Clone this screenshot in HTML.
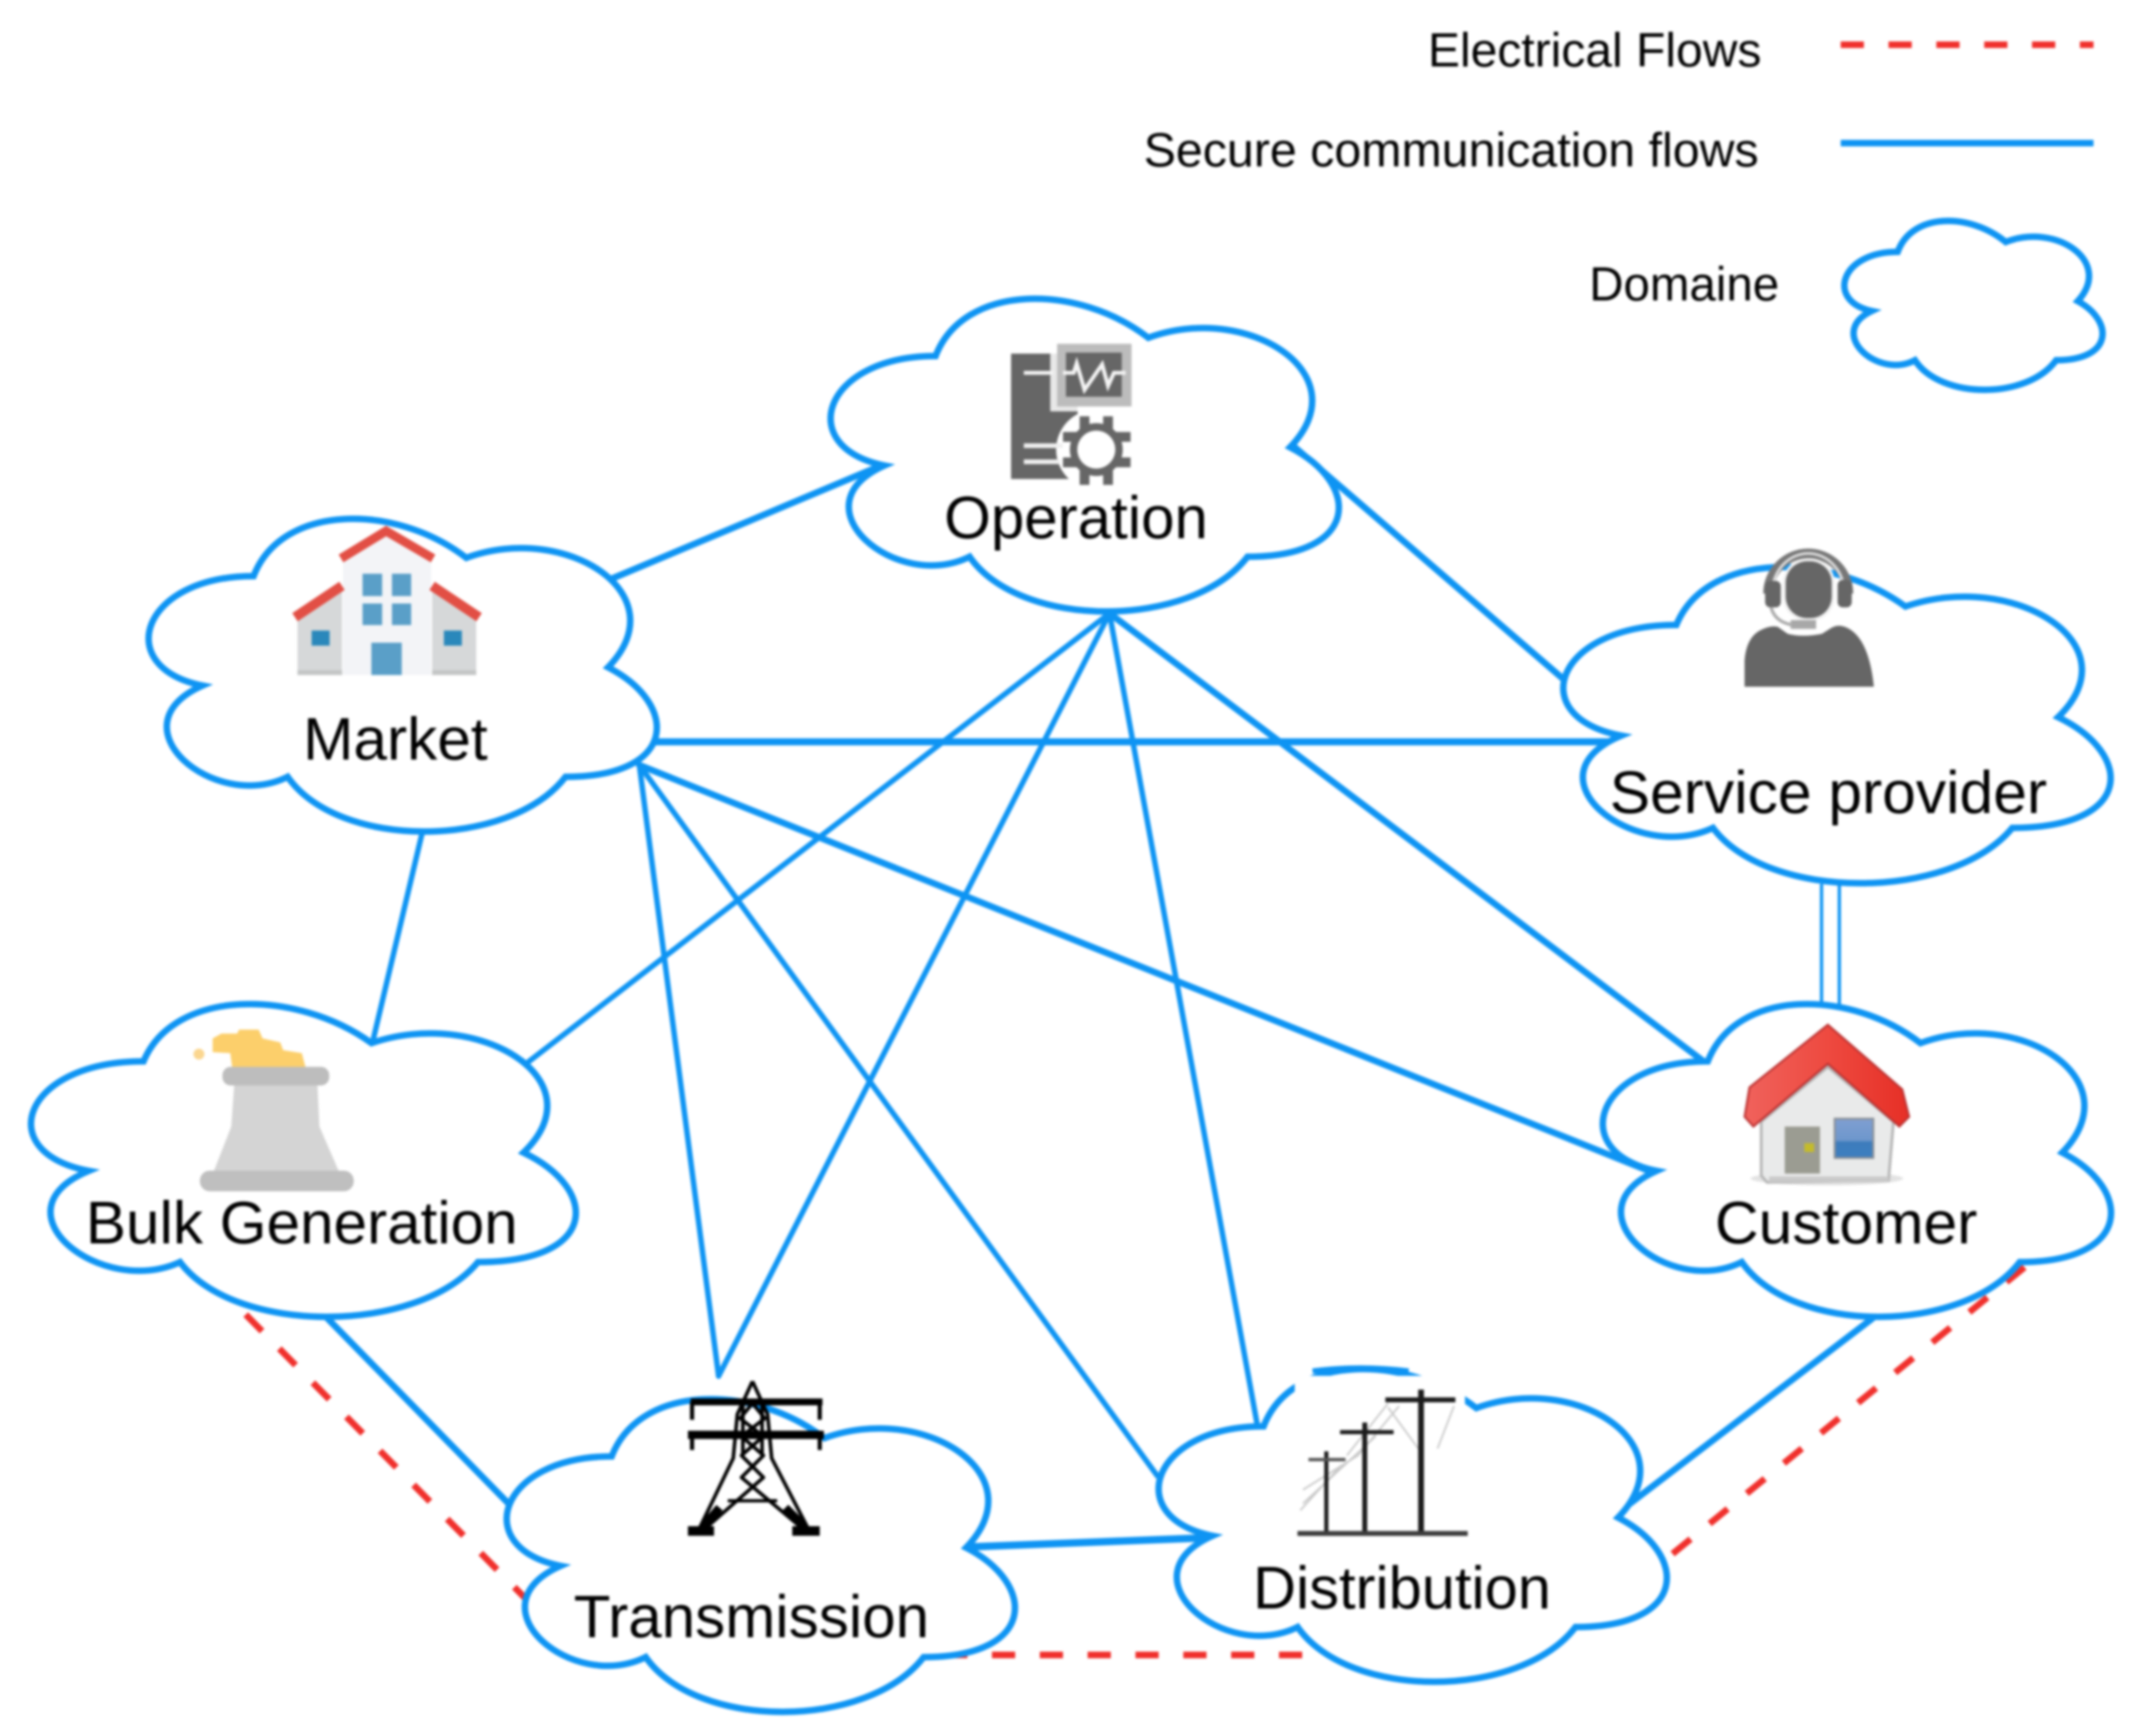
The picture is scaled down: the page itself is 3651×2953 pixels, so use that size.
<!DOCTYPE html>
<html lang="en">
<head>
<meta charset="utf-8">
<title>Smart grid domains diagram</title>
<style>
html,body{margin:0;padding:0;background:#fff;}
svg{display:block;position:absolute;left:0;top:0;width:3651px;height:2953px;filter:blur(2px);}
text{font-family:"Liberation Sans",Arial,sans-serif;fill:#000;}
.l{stroke:#0e94f3;stroke-width:4.8;fill:none;stroke-linecap:round;}
.t{stroke:#0e94f3;stroke-width:4;fill:none;stroke-linecap:round;}
.e{stroke:#f0302c;stroke-width:4.8;fill:none;stroke-dasharray:17 18;}
.c{fill:#fff;stroke:#0e94f3;stroke-width:11;stroke-linejoin:miter;}
</style>
</head>
<body>
<svg xmlns="http://www.w3.org/2000/svg" viewBox="0 0 1570 1270" width="3651" height="2953">
<defs>
<path id="cl" d="M103.75,66.75 C20.75,66.75 0,133.5 66.4,146.85 C0,176.2 74.7,240.3 128.65,213.6 C166,267 290.5,267 332,213.6 C415,213.6 415,160.2 363.1,133.5 C415,80.1 332,26.7 259.4,53.4 C207.5,13.35 124.5,13.35 103.75,66.75 Z" vector-effect="non-scaling-stroke"/>
<linearGradient id="rf" x1="0" x2="1" y1="0" y2="0"><stop offset="0" stop-color="#f0625c"/><stop offset="0.5" stop-color="#ee4a40"/><stop offset="1" stop-color="#e62f26"/></linearGradient>
<linearGradient id="wn" x1="0" x2="0" y1="0" y2="1"><stop offset="0" stop-color="#7f9fd2"/><stop offset="0.55" stop-color="#6e97cc"/><stop offset="0.6" stop-color="#3d7cbc"/><stop offset="1" stop-color="#3d7fc0"/></linearGradient>
</defs>

<g transform="translate(1.7,1.7)">
<!-- electrical flows -->
<path class="e" d="M178,960 L383,1168"/>
<path class="e" d="M689,1209 L955,1209"/>
<path class="e" d="M1222,1135 L1480,925"/>

<!-- communication flows -->
<path class="l" d="M445,422 L645,338"/>
<path class="l" d="M945,325 L1142,495"/>
<path class="l" d="M478,541 L1185,541" style="stroke-width:5.2"/>
<path class="l" d="M466,558 L1210,857"/>
<path class="t" d="M466,558 L845,1078"/>
<path class="t" d="M466,558 L524,1005"/>
<path class="t" d="M810,447 L385,775"/>
<path class="t" d="M810,447 L524,1005"/>
<path class="t" d="M810,447 L918,1040"/>
<path class="l" d="M810,447 L1245,775"/>
<path class="t" d="M307,608 L271,760"/>
<path class="l" d="M238,963 L370,1098"/>
<path class="l" d="M707,1130 L888,1123" style="stroke-width:5.4"/>
<path class="l" d="M1182,1105 L1368,963"/>
<path d="M1331,645 L1331,735 M1344,645 L1344,735" stroke="#0e94f3" stroke-width="2.4" fill="none"/>

<!-- clouds -->
<use href="#cl" class="c" transform="translate(579,192)"/>
<use href="#cl" class="c" transform="translate(80,353)"/>
<use href="#cl" class="c" transform="translate(1113,388) scale(1.077,1.011)"/>
<use href="#cl" class="c" transform="translate(1144,708)"/>
<use href="#cl" class="c" transform="translate(-8,708) scale(1.072,1)"/>
<use href="#cl" class="c" transform="translate(342,997)"/>
<use href="#cl" class="c" transform="translate(819,975)"/>
<use href="#cl" class="c" transform="translate(1334,146.5) scale(0.508,0.54)"/>

<!-- legend -->
<path class="e" d="M1345,31 L1530,31"/>
<path d="M1345,103 L1530,103" stroke="#0e94f3" stroke-width="4.8"/>
<text x="1043" y="47" font-size="35" textLength="244" lengthAdjust="spacingAndGlyphs">Electrical Flows</text>
<text x="835" y="120" font-size="35" textLength="450" lengthAdjust="spacingAndGlyphs">Secure communication flows</text>
<text x="1161" y="218" font-size="35" textLength="139" lengthAdjust="spacingAndGlyphs">Domaine</text>
</g>

<g transform="scale(1.0045)">
<!-- Operation icon -->
<g transform="translate(685,214) scale(0.1427)">
<rect x="360" y="305" width="340" height="640" fill="#666"/>
<rect x="560" y="240" width="430" height="360" fill="#fff" opacity="0.85"/>
<rect x="595" y="255" width="380" height="320" fill="#bcbcbc"/>
<rect x="640" y="300" width="285" height="225" fill="#666"/>
<path d="M425,403 H575 M625,403 H680 L695,355 L735,490 L825,360 L855,470 L885,403 H945" fill="none" stroke="#f4f4f4" stroke-width="20"/>
<circle cx="795" cy="795" r="205" fill="#fff"/>
<path d="M425,775 H625 M425,857 H610" stroke="#efefef" stroke-width="24" fill="none"/>
<g fill="#666">
<circle cx="795" cy="795" r="135"/>
<rect x="710" y="625" width="50" height="90"/>
<rect x="830" y="625" width="50" height="90"/>
<rect x="710" y="880" width="50" height="95"/>
<rect x="830" y="880" width="50" height="95"/>
<rect x="880" y="705" width="90" height="50"/>
<rect x="880" y="835" width="90" height="50"/>
<rect x="625" y="705" width="85" height="50"/>
<rect x="625" y="835" width="85" height="50"/>
</g>
<circle cx="795" cy="795" r="97" fill="#fff"/>
</g>

<!-- Market icon -->
<g transform="translate(179.8,363.9) scale(0.1427)">
<polygon points="258,600 485,460 485,895 258,895" fill="#d6d8d9"/>
<polygon points="1170,600 945,460 945,895 1170,895" fill="#d6d8d9"/>
<rect x="258" y="870" width="228" height="25" fill="#c4c6c6"/>
<rect x="945" y="870" width="225" height="25" fill="#c4c6c6"/>
<polygon points="490,300 710,180 940,300 940,895 490,895" fill="#f3f4f7"/>
<path d="M480,300 L710,160 L950,300" fill="none" stroke="#e24f45" stroke-width="46"/>
<path d="M245,600 L485,440" fill="none" stroke="#e24f45" stroke-width="50"/>
<path d="M1185,600 L945,440" fill="none" stroke="#e24f45" stroke-width="50"/>
<g fill="#5a9fc8">
<rect x="590" y="378" width="100" height="114"/>
<rect x="740" y="378" width="98" height="114"/>
<rect x="590" y="530" width="100" height="110"/>
<rect x="740" y="530" width="98" height="110"/>
<rect x="635" y="730" width="155" height="165"/>
</g>
<rect x="330" y="668" width="92" height="77" fill="#2a88bb"/>
<rect x="1005" y="668" width="92" height="77" fill="#2a88bb"/>
</g>

<!-- Service provider icon -->
<g transform="translate(1241.4,393.8) scale(0.1427)">
<path d="M205,745 L205,610 Q215,490 290,455 Q340,430 375,440 L425,475 Q500,495 600,475 L640,450 Q680,420 730,445 Q840,500 865,745 Z" fill="#666"/>
<path d="M325,270 A205,205 0 0 1 735,270" fill="none" stroke="#777" stroke-width="50"/>
<path d="M345,270 A185,205 0 0 1 715,270" fill="none" stroke="#ddd" stroke-width="14"/>
<rect x="310" y="205" width="80" height="135" rx="26" fill="#666"/>
<rect x="680" y="200" width="72" height="140" rx="26" fill="#666"/>
<rect x="400" y="90" width="265" height="320" rx="125" fill="#f2f2f2"/>
<rect x="415" y="105" width="235" height="290" rx="110" fill="#666"/>
<rect x="440" y="405" width="130" height="45" fill="#a8a8a8"/>
<path d="M340,340 Q360,415 450,430" fill="none" stroke="#aaa" stroke-width="16"/>
</g>

<!-- Customer icon -->
<g transform="translate(1241.4,727.7) scale(0.1427)">
<ellipse cx="625" cy="915" rx="390" ry="35" fill="#ccc" opacity="0.55"/>
<polygon points="290,625 630,345 965,625 940,925 320,935 290,900" fill="#e9eaea" stroke="#b5b5b5" stroke-width="14"/>
<rect x="330" y="905" width="610" height="30" fill="#c9c9c9"/>
<polygon points="630,130 1010,460 1045,600 995,650 630,330 250,650 205,600 230,450" fill="url(#rf)" stroke="#b93030" stroke-width="10"/>
<rect x="410" y="650" width="180" height="240" fill="#9b9c92"/>
<rect x="510" y="735" width="50" height="45" fill="#c4bb2c"/>
<rect x="665" y="610" width="197" height="200" fill="url(#wn)" stroke="#8a8f96" stroke-width="10"/>
</g>

<!-- Bulk generation icon -->
<g transform="translate(128.4,736.3) scale(0.1427)">
<polygon points="185,140 230,115 310,115 320,95 420,95 440,140 530,160 545,200 640,215 660,290 285,290 275,215 185,210" fill="#fccf6b"/>
<circle cx="115" cy="220" r="28" fill="#fbd68f"/>
<polygon points="295,375 720,375 730,590 830,820 190,820 280,590" fill="#d4d4d4"/>
<rect x="235" y="285" width="545" height="95" rx="42" fill="#bdbdbd"/>
<rect x="120" y="815" width="785" height="105" rx="50" fill="#bfbfbf"/>
</g>

<!-- Transmission tower icon -->
<g fill="none" stroke="#000" stroke-width="2.6" stroke-linejoin="round">
<path d="M548,1006 L537,1030 L534,1062 L508,1116 M548,1006 L559,1030 L562,1062 L590,1116"/>
<path d="M541,1021 V1060 M555,1021 V1060"/>
<path d="M548,1022 L539,1033 L556,1046 L540,1060 L556,1076 L515,1112 M548,1022 L557,1033 L540,1046 L556,1060 L540,1076 L583,1112"/>
<path d="M530,1093 H566" stroke-width="2.4"/>
<path d="M503,1021 H599" stroke-width="5"/>
<path d="M504,1021 V1034 M597,1021 V1034" stroke-width="3"/>
<path d="M501,1045 H600" stroke-width="6"/>
<path d="M504,1045 V1056 M597,1045 V1056" stroke-width="3"/>
<path d="M524,1098 L512,1112 M572,1098 L586,1112" stroke-width="6"/>
<path d="M501,1115 H520 M577,1115 H597" stroke-width="7"/>
</g>

<!-- Distribution poles icon -->
<rect x="943" y="1002" width="124" height="118" fill="#fff"/>
<path d="M956,998.5 Q991,994 1026,998.5" fill="none" stroke="#0e94f3" stroke-width="3.8"/>
<g fill="none" stroke="#c9c9c9" stroke-width="1.3">
<path d="M1011,1022 L981,1060 M1019,1024 L989,1060 L949,1085 M1002,1046 L949,1095 M977,1067 L947,1100 M1059,1024 L1047,1055 M1011,1025 L1033,1055"/>
</g>
<g stroke="#1b1b1b" fill="none">
<path d="M1035,1012 V1117" stroke-width="4.2"/>
<path d="M1009,1019.5 H1060" stroke-width="3.6"/>
<path d="M994,1036 V1117" stroke-width="3.6"/>
<path d="M976,1043 H1015" stroke-width="3"/>
<path d="M966,1057 V1117" stroke-width="3"/>
<path d="M953,1063 H980" stroke-width="2.4" stroke="#555"/>
</g>
<rect x="945" y="1115" width="124" height="3.6" fill="#3c3c3c"/>
</g>

<!-- labels -->
<g transform="translate(1.7,1.7)">
<text x="689" y="392" font-size="44" textLength="193" lengthAdjust="spacingAndGlyphs">Operation</text>
<text x="220" y="554" font-size="44" textLength="135" lengthAdjust="spacingAndGlyphs">Market</text>
<text x="1176" y="593" font-size="44" textLength="320" lengthAdjust="spacingAndGlyphs">Service provider</text>
<text x="1253" y="908" font-size="44" textLength="192" lengthAdjust="spacingAndGlyphs">Customer</text>
<text x="61" y="908" font-size="44" textLength="316" lengthAdjust="spacingAndGlyphs">Bulk Generation</text>
<text x="418" y="1196" font-size="44" textLength="260" lengthAdjust="spacingAndGlyphs">Transmission</text>
<text x="915" y="1175" font-size="44" textLength="218" lengthAdjust="spacingAndGlyphs">Distribution</text>
</g>
</svg>
</body>
</html>
